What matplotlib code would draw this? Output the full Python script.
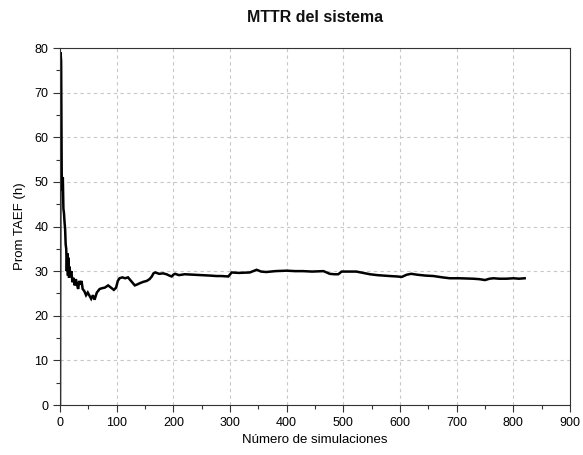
import matplotlib
matplotlib.use("Agg")
import matplotlib.pyplot as plt
from matplotlib.ticker import MultipleLocator

title = "MTTR del sistema"
xlabel = "Número de simulaciones"
ylabel = "Prom TAEF (h)"

sims = [0, 1, 2, 3, 4, 5, 6, 7, 8, 9, 10, 11, 12, 13, 14, 15, 16, 17, 18, 20,
        22, 24, 26, 28, 30, 32, 34, 36, 38, 40, 43, 46, 49, 52, 55, 58, 61, 65,
        70, 75, 79, 85, 90, 95, 99, 102, 105, 110, 115, 120, 124, 128, 132, 136,
        141, 147, 153, 158, 162, 165, 168, 175, 182, 188, 193, 197, 200, 203,
        210, 220, 235, 250, 265, 276, 285, 297, 303, 315, 335, 347, 355, 364,
        380, 400, 415, 429, 445, 465, 476, 484, 491, 497, 512, 523, 535, 547,
        560, 582, 595, 603, 612, 620, 630, 645, 659, 675, 688, 705, 729, 740,
        750, 758, 765, 775, 788, 800, 810, 820]
mttr = [0, 79, 77, 52, 48, 51, 44, 43, 41, 39.5, 36, 35, 30, 34, 29, 33, 28.5,
        31, 28.9, 30, 27.5, 28.5, 26.8, 28.2, 27, 26, 27.8, 27, 27.8, 26, 25.5,
        24.6, 25.2, 24.5, 23.8, 24.6, 23.6, 25.2, 26, 26.2, 26.3, 26.8, 26.3,
        25.8, 26.3, 27.8, 28.4, 28.6, 28.4, 28.6, 28.0, 27.4, 26.8, 27.0, 27.3,
        27.6, 27.8, 28.2, 28.8, 29.5, 29.7, 29.4, 29.5, 29.3, 29.0, 28.8, 29.2,
        29.4, 29.1, 29.3, 29.2, 29.1, 29.0, 28.9, 28.9, 28.8, 29.7, 29.6, 29.7,
        30.3, 29.9, 29.8, 30.0, 30.1, 30.0, 30.0, 29.9, 30.0, 29.4, 29.3, 29.3,
        29.9, 29.9, 29.9, 29.6, 29.3, 29.1, 28.9, 28.8, 28.7, 29.2, 29.4, 29.2,
        29.0, 28.9, 28.6, 28.4, 28.4, 28.3, 28.2, 28.0, 28.3, 28.4, 28.3, 28.3,
        28.4, 28.3, 28.4]

plt.rcParams['font.family'] = ['Liberation Sans', 'DejaVu Sans']

fig = plt.figure(figsize=(5.83, 4.55), dpi=100)
ax = fig.add_axes([60/583, 50/455, 510/583, 357/455])

ax.plot(sims, mttr, color='black', linewidth=1.8, solid_joinstyle='miter')

ax.set_xlim(0, 900)
ax.set_ylim(0, 80)
ax.xaxis.set_major_locator(MultipleLocator(100))
ax.xaxis.set_minor_locator(MultipleLocator(50))
ax.yaxis.set_major_locator(MultipleLocator(10))
ax.yaxis.set_minor_locator(MultipleLocator(5))
ax.tick_params(which='major', direction='out', length=5, width=0.8, colors='#333333',
               labelsize=9, labelcolor='black', top=False, right=False)
ax.tick_params(which='minor', direction='out', length=3, width=0.8, colors='#333333',
               top=False, right=False)
ax.grid(True, which='major', linestyle=(0, (3, 3)), color='#c8c8c8', linewidth=0.8)
ax.set_axisbelow(True)
for s in ax.spines.values():
    s.set_color('#333333')
    s.set_linewidth(0.8)

fig.text(315/583, 1 - 17/455, title, ha='center', va='center', fontsize=11.5,
         fontweight='bold', color='#111111')
ax.set_xlabel(xlabel, fontsize=9.5, labelpad=4)
ax.set_ylabel(ylabel, fontsize=9.5, labelpad=6)

fig.savefig("out.png", dpi=100)
